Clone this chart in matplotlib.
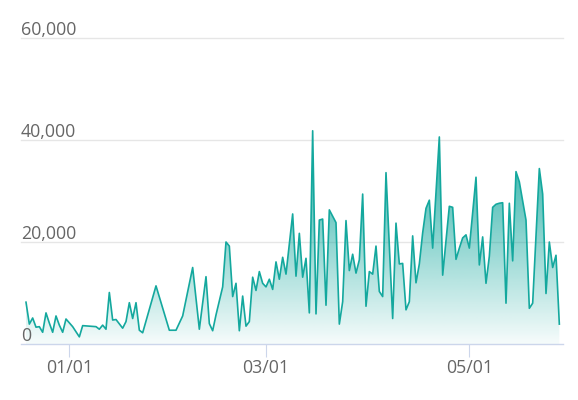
import numpy as np
import pandas as pd
import matplotlib

matplotlib.use("Agg")
import matplotlib.pyplot as plt
import matplotlib.dates as mdates
import matplotlib.transforms as mtransforms
from matplotlib.colors import to_rgb

plt.rcParams["font.family"] = ["Open Sans", "DejaVu Sans"]

START = "2021-01-01"
# days relative to START (gaps are simply missing days)
day_offsets = [
    -13, -12, -11, -10, -9, -8, -7, -6, -5, -4, -3, -2, -1, 1, 3, 4, 8, 9, 10, 11,
    12, 13, 14, 16, 17, 18, 19, 20, 21, 22, 26, 30, 32, 34, 37, 39, 41, 42, 43, 44,
    46, 47, 48, 49, 50, 51, 52, 53, 54, 55, 56, 57, 58, 59, 60, 61, 62, 63, 64, 65,
    67, 68, 69, 70, 71, 72, 73, 74, 75, 76, 77, 78, 80, 81, 82, 83, 84, 85, 86, 87,
    88, 89, 90, 91, 92, 93, 94, 95, 97, 98, 99, 100, 101, 102, 103, 104, 105, 106, 107, 108,
    109, 111, 112, 114, 115, 116, 117, 118, 119, 120, 122, 123, 124, 125, 126, 127, 128, 129, 130, 131,
    132, 133, 134, 135, 137, 138, 139, 141, 142, 143, 144, 145, 146, 147,
]
views = [
    8200, 3900, 5100, 3300, 3400, 2300, 6100, 4100, 2300, 5500, 3700, 2300, 4900, 3400, 1400, 3600, 3400, 2900, 3700, 2900,
    10100, 4700, 4800, 3100, 4400, 8100, 5000, 8100, 2700, 2200, 11400, 2700, 2700, 5500, 15000, 2900, 13200, 4000, 2600, 5700,
    11200, 20000, 19200, 9300, 11900, 2600, 9400, 3500, 4400, 13100, 10500, 14200, 11900, 11200, 12700, 10700, 16100, 12700, 17000, 13700,
    25500, 13300, 21700, 13100, 16800, 6100, 41800, 5900, 24300, 24500, 7600, 26300, 23800, 3900, 8300, 24200, 14400, 17600, 13900, 16500,
    29400, 7400, 14200, 13700, 19200, 10300, 9300, 33600, 5000, 23700, 15700, 15800, 6700, 8300, 21200, 12000, 15700, 21800, 26600, 28200,
    18800, 40600, 13500, 27000, 26800, 16600, 18800, 20800, 21400, 18800, 32700, 15500, 21000, 11900, 17200, 26800, 27400, 27600, 27700, 8000,
    27600, 16300, 33800, 31800, 24300, 7000, 8000, 34400, 29400, 9900, 20000, 15000, 17400, 3900,
]
tick_dates = ["2021-01-01", "2021-03-01", "2021-05-01"]
y_ticks = [0, 20000, 40000, 60000]

LINE = "#14a89e"
TEXT = "#666666"
GRID = "#e6e6e6"
AXIS = "#ccd6eb"

dates = pd.Timestamp(START) + pd.to_timedelta(day_offsets, unit="D")
x = mdates.date2num(dates)

fig = plt.figure(figsize=(5.78, 4.0), dpi=100)
ax = fig.add_axes([21 / 578, 1 - 344 / 400, (563 - 21) / 578, (344 - 38) / 400])

# gradient fill under the line, clipped to the area polygon
top = max(views)
rgba = np.zeros((256, 1, 4))
rgba[..., :3] = to_rgb(LINE)
rgba[..., 3] = np.linspace(0.04, 0.95, 256).reshape(-1, 1)
img = ax.imshow(rgba, extent=[x.min(), x.max(), 0, top], origin="lower",
                aspect="auto", interpolation="bilinear", zorder=2)
area = ax.fill_between(x, views, 0, color="none", lw=0)
img.set_clip_path(area.get_paths()[0], transform=ax.transData)

ax.plot(x, views, color=LINE, lw=1.2, zorder=3)

ax.set_xlim(x.min() - 1.5, x.max() + 1.1)
ax.set_ylim(0, 60000)

for v in y_ticks[1:]:
    ax.axhline(v, color=GRID, lw=1, zorder=1, clip_on=False)
ax.axhline(0, color=AXIS, lw=1, zorder=4, clip_on=False)

trans = mtransforms.blended_transform_factory(ax.transAxes, ax.transData)
for v in y_ticks:
    ax.text(0, v + 500, f"{v:,}", transform=trans, ha="left", va="baseline",
            fontsize=12.8, color=TEXT)

for s in ax.spines.values():
    s.set_visible(False)
ax.set_yticks([])
ax.set_xticks(mdates.date2num(pd.to_datetime(tick_dates)))
ax.xaxis.set_major_formatter(mdates.DateFormatter("%m/%d"))
ax.tick_params(axis="x", length=9.2, width=0.8, color=AXIS, pad=1.8,
               labelsize=12.8, labelcolor=TEXT)

fig.savefig("out.png", dpi=100)
